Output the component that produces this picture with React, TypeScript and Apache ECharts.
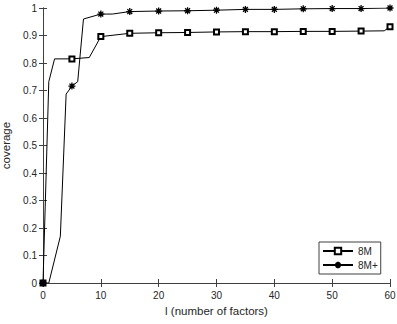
import React, { useEffect, useRef } from "react";
import * as echarts from "echarts";

const xs8M = [0, 1, 2, 5, 8, 10, 15, 20, 25, 30, 35, 40, 45, 50, 55, 59, 60];
const ys8M = [0, 0.732, 0.815, 0.815, 0.82, 0.896, 0.908, 0.91, 0.911, 0.913, 0.914, 0.914, 0.915, 0.915, 0.916, 0.917, 0.932];
const xs8Mp = [0, 1, 3, 4, 5, 6, 7, 9, 10, 12, 15, 20, 25, 30, 35, 40, 45, 50, 55, 60];
const ys8Mp = [0, 0, 0.17, 0.687, 0.716, 0.732, 0.96, 0.972, 0.978, 0.978, 0.987, 0.989, 0.99, 0.992, 0.995, 0.995, 0.997, 0.998, 0.998, 1.0];
const seriesNames = ["8M", "8M+"];
const xTicks = [0, 10, 20, 30, 40, 50, 60];
const yTickLabels = ["0", "0.1", "0.2", "0.3", "0.4", "0.5", "0.6", "0.7", "0.8", "0.9", "1"];
const xName = "l (number of factors)";
const yName = "coverage";

const STAR = "path://M0,-5L0,5M-5,0L5,0M-3.5,-3.5L3.5,3.5M-3.5,3.5L3.5,-3.5";
const FONT = "Liberation Sans";
const AX = "#404040";
const TXT = "#262626";

function mk(xs: number[], ys: number[]) {
  return xs.map((x, i) => (x % 5 === 0 ? { value: [x, ys[i]] } : { value: [x, ys[i]], symbol: "none" }));
}

export default function App() {
  const ref = useRef<HTMLDivElement>(null);
  useEffect(() => {
    if (!ref.current) return;
    const chart = echarts.init(ref.current, undefined, { renderer: "svg" });
    const axisCommon = {
      type: "value" as const,
      axisLine: { show: true, lineStyle: { color: AX, width: 1 } },
      axisTick: { show: true, inside: true, length: 4, lineStyle: { color: AX } },
      splitLine: { show: false },
    };
    chart.setOption({
      animation: false,
      backgroundColor: "#fff",
      grid: { left: 43, top: 8, width: 347, height: 275, containLabel: false, outerBoundsMode: "none" },
      xAxis: [
        {
          ...axisCommon,
          min: 0,
          max: 60,
          interval: 10,
          position: "bottom",
          axisLabel: { fontSize: 10, color: TXT, fontFamily: FONT, margin: 7, formatter: (v: number) => (xTicks.includes(v) ? String(v) : "") },
          name: xName,
          nameLocation: "middle",
          nameGap: 22,
          nameTextStyle: { fontSize: 11.5, color: TXT, fontFamily: FONT },
        },
        {
          ...axisCommon,
          min: 0,
          max: 60,
          interval: 10,
          position: "top",
          axisLabel: { show: false },
        },
      ],
      yAxis: [
        {
          ...axisCommon,
          min: 0,
          max: 1,
          interval: 0.1,
          position: "left",
          axisLabel: {
            fontSize: 10,
            color: TXT,
            fontFamily: FONT,
            margin: 6,
            formatter: (v: number) => yTickLabels[Math.round(v * 10)] ?? "",
          },
          name: yName,
          nameLocation: "middle",
          nameRotate: 90,
          nameGap: 24,
          nameTextStyle: { fontSize: 11.5, color: TXT, fontFamily: FONT },
        },
        {
          ...axisCommon,
          min: 0,
          max: 1,
          interval: 0.1,
          position: "right",
          axisLabel: { show: false },
        },
      ],
      legend: {
        left: 319,
        top: 242,
        orient: "vertical",
        data: seriesNames,
        borderColor: AX,
        borderWidth: 1,
        padding: [4, 3, 4, 3],
        itemGap: 4,
        itemWidth: 30,
        itemHeight: 8,
        backgroundColor: "#fff",
        textStyle: { fontSize: 10, color: TXT, fontFamily: FONT },
      },
      series: [
        {
          name: seriesNames[0],
          type: "line",
          data: mk(xs8M, ys8M),
          symbol: "emptyRect",
          symbolSize: 5,
          showAllSymbol: true,
          itemStyle: { color: "#000", borderColor: "#000", borderWidth: 1 },
          lineStyle: { color: "#000", width: 1 },
          emphasis: { disabled: true },
        },
        {
          name: seriesNames[1],
          type: "line",
          data: mk(xs8Mp, ys8Mp),
          symbol: STAR,
          symbolSize: 7,
          showAllSymbol: true,
          itemStyle: { color: "#000", borderColor: "#000", borderWidth: 1.3 },
          lineStyle: { color: "#000", width: 1 },
          emphasis: { disabled: true },
        },
      ],
    });
    return () => chart.dispose();
  }, []);
  return <div ref={ref} style={{ position: "absolute", left: 0, top: 0, width: 397, height: 324 }} />;
}
